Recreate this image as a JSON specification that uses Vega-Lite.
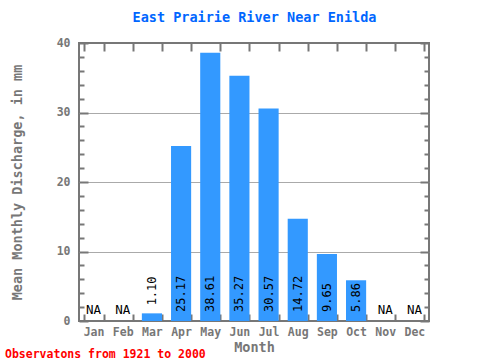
{
  "$schema": "https://vega.github.io/schema/vega-lite/v6.json",
  "width": 350,
  "height": 278,
  "autosize": {"type": "none"},
  "padding": {"left": 79, "top": 43, "right": 51, "bottom": 39},
  "background": "white",
  "title": {
    "text": "Observatons from 1921 to 2000",
    "orient": "bottom",
    "anchor": "start",
    "frame": "group",
    "dx": -74,
    "offset": -5,
    "color": "#ff0000",
    "font": "DejaVu Sans Mono",
    "fontSize": 11.5,
    "fontWeight": "bold"
  },
  "config": {
    "view": {"stroke": "#777777", "strokeWidth": 2},
    "axis": {
      "domain": false,
      "labelFont": "DejaVu Sans Mono",
      "labelFontWeight": "bold",
      "labelColor": "#777777",
      "labelFontSize": 11.5,
      "titleFont": "DejaVu Sans Mono",
      "titleFontWeight": "bold",
      "titleColor": "#777777",
      "titleFontSize": 13.5,
      "tickColor": "#777777",
      "tickWidth": 2
    }
  },
  "data": {
    "values": [
      {"month": "Jan", "value": null},
      {"month": "Feb", "value": null},
      {"month": "Mar", "value": 1.10},
      {"month": "Apr", "value": 25.17},
      {"month": "May", "value": 38.61},
      {"month": "Jun", "value": 35.27},
      {"month": "Jul", "value": 30.57},
      {"month": "Aug", "value": 14.72},
      {"month": "Sep", "value": 9.65},
      {"month": "Oct", "value": 5.86},
      {"month": "Nov", "value": null},
      {"month": "Dec", "value": null}
    ]
  },
  "resolve": {"axis": {"x": "independent", "y": "independent"}},
  "layer": [
    {
      "mark": {"type": "bar", "color": "#3399ff"},
      "encoding": {
        "x": {
          "field": "month", "type": "nominal",
          "sort": ["Jan","Feb","Mar","Apr","May","Jun","Jul","Aug","Sep","Oct","Nov","Dec"],
          "scale": {"paddingInner": 0.31, "paddingOuter": 0.155},
          "axis": {"orient": "bottom", "title": "Month", "labelAngle": 0, "tickBand": "extent", "tickSize": -7, "labelPadding": 12, "titlePadding": 3}
        },
        "y": {
          "field": "value", "type": "quantitative",
          "scale": {"domain": [0, 40], "nice": false},
          "axis": {
            "orient": "left",
            "title": "Mean Monthly Discharge, in mm",
            "values": [0,2,4,6,8,10,12,14,16,18,20,22,24,26,28,30,32,34,36,38,40],
            "labelExpr": "datum.value % 10 === 0 ? datum.label : ''",
            "tickSize": {"condition": {"test": "datum.value % 10 === 0", "value": -9}, "value": -5},
            "grid": true,
            "gridColor": "#aaaaaa",
            "gridWidth": 1,
            "gridOpacity": {"condition": {"test": "datum.value % 10 === 0 && datum.value > 0 && datum.value < 40", "value": 1}, "value": 0},
            "labelPadding": 18,
            "titlePadding": 32
          }
        }
      }
    },
    {
      "transform": [{"filter": "datum.value != null && datum.value >= 5"}],
      "mark": {"type": "text", "angle": 270, "align": "left", "baseline": "middle", "dx": 9, "font": "DejaVu Sans Mono", "fontSize": 12, "color": "black"},
      "encoding": {
        "x": {
          "field": "month", "type": "nominal",
          "sort": ["Jan","Feb","Mar","Apr","May","Jun","Jul","Aug","Sep","Oct","Nov","Dec"],
          "axis": {"orient": "top", "labels": false, "title": "East Prairie River Near Enilda", "titleColor": "#0066ff", "titleFontSize": 13.5, "titlePadding": 18, "tickBand": "extent", "tickSize": -8}
        },
        "y": {
          "datum": 0, "type": "quantitative",
          "axis": {
            "orient": "right",
            "labels": false,
            "title": null,
            "grid": false,
            "values": [0,2,4,6,8,10,12,14,16,18,20,22,24,26,28,30,32,34,36,38,40],
            "tickSize": {"condition": {"test": "datum.value % 10 === 0", "value": -9}, "value": -5}
          }
        },
        "text": {"field": "value", "type": "quantitative", "format": ".2f"}
      }
    },
    {
      "transform": [{"filter": "datum.value != null && datum.value < 5"}],
      "mark": {"type": "text", "angle": 270, "align": "left", "baseline": "middle", "dx": 8, "font": "DejaVu Sans Mono", "fontSize": 12, "color": "black"},
      "encoding": {
        "x": {"field": "month", "type": "nominal", "sort": ["Jan","Feb","Mar","Apr","May","Jun","Jul","Aug","Sep","Oct","Nov","Dec"], "axis": null},
        "y": {"field": "value", "type": "quantitative", "axis": null},
        "text": {"field": "value", "type": "quantitative", "format": ".2f"}
      }
    },
    {
      "transform": [{"filter": "datum.value == null"}],
      "mark": {"type": "text", "align": "center", "baseline": "middle", "dy": -11, "font": "DejaVu Sans Mono", "fontSize": 12.5, "color": "black"},
      "encoding": {
        "x": {"field": "month", "type": "nominal", "sort": ["Jan","Feb","Mar","Apr","May","Jun","Jul","Aug","Sep","Oct","Nov","Dec"], "axis": null},
        "y": {"datum": 0, "type": "quantitative", "axis": null},
        "text": {"value": "NA"}
      }
    }
  ]
}
